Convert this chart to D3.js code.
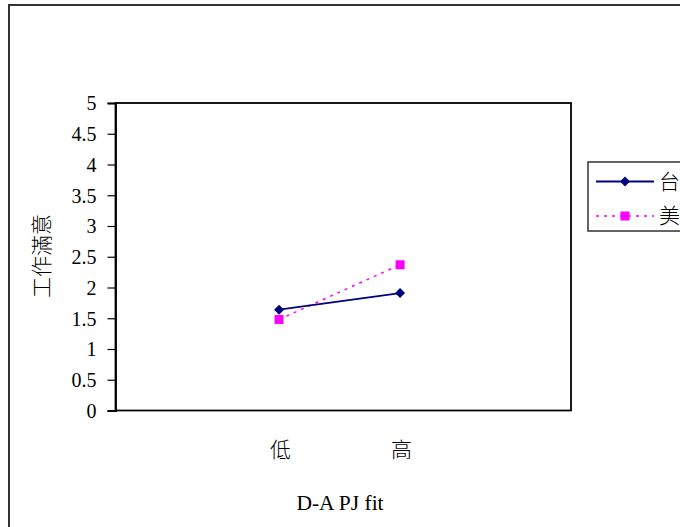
<!DOCTYPE html>
<html><head><meta charset="utf-8">
<script src="https://cdn.jsdelivr.net/npm/d3@7"></script>
<style>
body{margin:0;background:#fff;}
text{fill:#000;}
.serif{font-family:"Liberation Serif","Times New Roman","DejaVu Serif",serif;}
.cjk{font-family:"Noto Sans CJK TC","Noto Sans CJK SC",sans-serif;font-weight:300;}
</style></head>
<body><svg id="c" width="680" height="527"></svg>
<script>
const categories = ["低", "高"];
const seriesNames = ["台", "美"];
const taiwanValues = [1.64, 1.91];
const usValues = [1.48, 2.37];
const yTicks = [0, 0.5, 1, 1.5, 2, 2.5, 3, 3.5, 4, 4.5, 5];
const yTitle = "工作滿意";
const xTitle = "D-A PJ fit";

const svg = d3.select("#c");
svg.append("rect").attr("x", 9).attr("y", 5).attr("width", 700).attr("height", 560)
  .attr("fill", "none").attr("stroke", "#333").attr("stroke-width", 2);

const L = 115.5, R = 571, T = 103, B = 410.5;
const x = d3.scalePoint().domain(categories).range([L, R]).padding(1.382).align(0.489);
const y = d3.scaleLinear().domain([0, 5]).range([B, T]);

svg.append("rect").attr("x", L).attr("y", T).attr("width", R - L).attr("height", B - T)
  .attr("fill", "#fff").attr("stroke", "#000").attr("stroke-width", 1.8);

const yAxis = svg.append("g").attr("transform", `translate(${L},0)`)
  .call(d3.axisLeft(y).tickValues(yTicks).tickSize(8).tickPadding(11).tickFormat(d3.format("")));
yAxis.attr("font-family", null).attr("font-size", null);
yAxis.select(".domain").attr("stroke", "#000").attr("stroke-width", 1.8);
yAxis.selectAll(".tick line").attr("stroke", "#000").attr("stroke-width", 1.2);
yAxis.selectAll(".tick text").attr("class", "serif").attr("font-size", 20).attr("dy", "0.34em")
  .attr("transform", "scale(1,1)");

svg.append("g").selectAll("text").data(categories).join("text")
  .attr("class", "cjk")
  .attr("x", d => x(d) + 1.5).attr("y", 450).attr("text-anchor", "middle").attr("dy", "0.35em")
  .attr("font-size", 21).text(d => d);

svg.append("text").attr("class", "serif").attr("x", 340).attr("y", 502)
  .attr("text-anchor", "middle").attr("dy", "0.35em")
  .attr("font-size", 21.5).text(xTitle);

svg.append("text").attr("class", "cjk").attr("transform", "translate(42,256) rotate(-90)")
  .attr("text-anchor", "middle").attr("dy", "0.35em")
  .attr("font-size", 21).text(yTitle);

const line = d3.line().x((d, i) => x(categories[i])).y(d => y(d));
const diamond = d3.symbol().type(d3.symbolSquare).size(50);

svg.append("path").datum(usValues).attr("d", line).attr("fill", "none")
  .attr("stroke", "#ff00ff").attr("stroke-width", 1.5).attr("stroke-dasharray", "3,5");
svg.append("path").datum(taiwanValues).attr("d", line).attr("fill", "none")
  .attr("stroke", "#000080").attr("stroke-width", 1.8);

svg.append("g").selectAll("path").data(taiwanValues).join("path")
  .attr("transform", (d, i) => `translate(${x(categories[i])},${y(d)}) rotate(45)`)
  .attr("d", diamond).attr("fill", "#000080");
svg.append("g").selectAll("rect").data(usValues).join("rect")
  .attr("x", (d, i) => x(categories[i]) - 4.5).attr("y", d => y(d) - 4.5)
  .attr("width", 9).attr("height", 9).attr("fill", "#ff00ff");

const lg = svg.append("g");
lg.append("rect").attr("x", 588).attr("y", 162).attr("width", 120).attr("height", 69)
  .attr("fill", "#fff").attr("stroke", "#333").attr("stroke-width", 1.5);
const rows = [181.5, 216];
lg.append("line").attr("x1", 596).attr("x2", 654).attr("y1", rows[0]).attr("y2", rows[0])
  .attr("stroke", "#000080").attr("stroke-width", 1.8);
lg.append("path").attr("transform", `translate(625,${rows[0]}) rotate(45)`).attr("d", diamond).attr("fill", "#000080");
lg.append("line").attr("x1", 596).attr("x2", 654).attr("y1", rows[1]).attr("y2", rows[1])
  .attr("stroke", "#ff00ff").attr("stroke-width", 1.5).attr("stroke-dasharray", "3,5");
lg.append("rect").attr("x", 620.5).attr("y", rows[1] - 4.5).attr("width", 9).attr("height", 9).attr("fill", "#ff00ff");
lg.selectAll("text").data(seriesNames).join("text")
  .attr("class", "cjk")
  .attr("x", 659).attr("y", (d, i) => rows[i]).attr("dy", "0.35em")
  .attr("font-size", 21).text(d => d);
</script></body></html>
